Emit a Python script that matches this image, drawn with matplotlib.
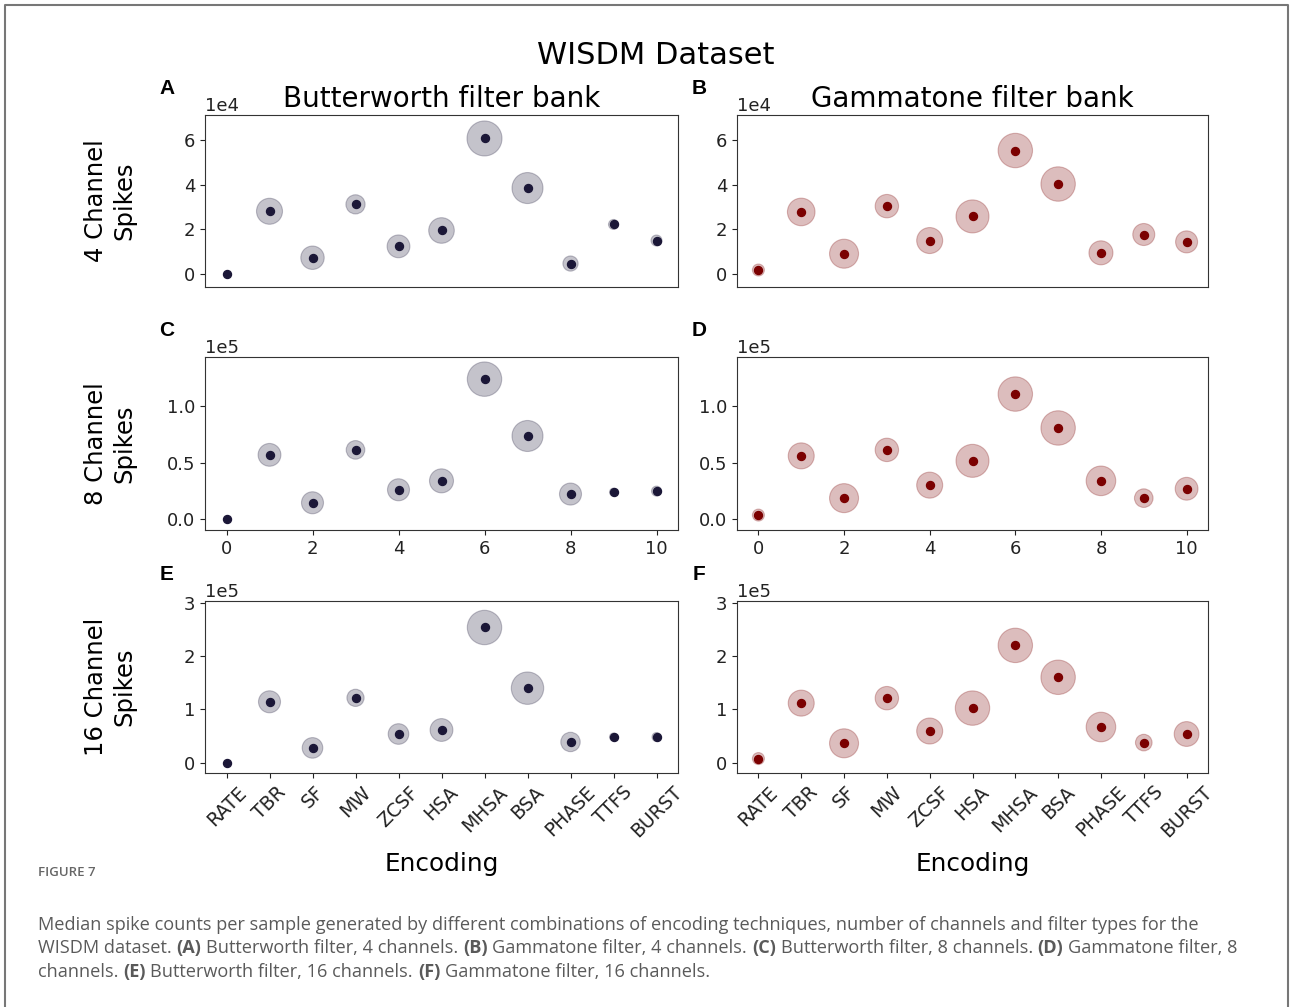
import numpy as np
import matplotlib
matplotlib.use("Agg")
import matplotlib.pyplot as plt
from matplotlib.lines import Line2D

plt.rcParams["font.family"] = "DejaVu Sans"

# DATA
encodings = ["RATE", "TBR", "SF", "MW", "ZCSF", "HSA", "MHSA", "BSA", "PHASE", "TTFS", "BURST"]

# median spike counts per sample
median_A = [0.00e4, 2.81e4, 0.73e4, 3.12e4, 1.24e4, 1.95e4, 6.07e4, 3.85e4, 0.47e4, 2.22e4, 1.50e4]
median_B = [0.18e4, 2.78e4, 0.91e4, 3.04e4, 1.50e4, 2.58e4, 5.53e4, 4.03e4, 0.95e4, 1.77e4, 1.44e4]
median_C = [0.000e5, 0.568e5, 0.144e5, 0.612e5, 0.259e5, 0.338e5, 1.238e5, 0.735e5, 0.221e5, 0.238e5, 0.247e5]
median_D = [0.035e5, 0.559e5, 0.185e5, 0.612e5, 0.300e5, 0.515e5, 1.106e5, 0.806e5, 0.338e5, 0.185e5, 0.268e5]
median_E = [0.000e5, 1.143e5, 0.280e5, 1.217e5, 0.540e5, 0.615e5, 2.534e5, 1.398e5, 0.391e5, 0.484e5, 0.484e5]
median_F = [0.080e5, 1.118e5, 0.366e5, 1.211e5, 0.596e5, 1.025e5, 2.199e5, 1.602e5, 0.671e5, 0.379e5, 0.540e5]

# relative spread (drawn as the halo around each median)
spread_A = [0.0, 13.0, 11.7, 9.6, 11.4, 12.8, 17.5, 15.5, 7.6, 5.0, 5.5]
spread_B = [6.0, 13.8, 14.5, 11.7, 13.0, 16.5, 17.2, 17.2, 12.0, 11.0, 11.0]
spread_C = [0.0, 11.4, 11.0, 9.3, 11.0, 12.0, 17.2, 15.5, 11.0, 4.0, 5.0]
spread_D = [6.0, 13.0, 14.5, 11.7, 13.0, 16.5, 17.2, 17.2, 14.8, 9.3, 11.4]
spread_E = [0.0, 11.0, 10.3, 8.6, 10.3, 11.4, 17.2, 16.2, 9.7, 4.0, 4.5]
spread_F = [6.0, 13.0, 14.5, 11.7, 13.0, 17.2, 17.2, 17.2, 14.8, 8.3, 12.4]

W, H = 1290, 1007
fig = plt.figure(figsize=(W/100, H/100), dpi=100)

def px_axes(l, t, r, b):
    return fig.add_axes([l/W, 1-b/H, (r-l)/W, (b-t)/H])

panels = [
    # label, median, spread, colour, box(px), ylim, yticks
    ("A", median_A, spread_A, "#1b1737", (205, 115, 678, 287), (-0.58e4, 7.12e4), [0, 2e4, 4e4, 6e4]),
    ("B", median_B, spread_B, "#7b0000", (737, 115, 1208, 287), (-0.58e4, 7.12e4), [0, 2e4, 4e4, 6e4]),
    ("C", median_C, spread_C, "#1b1737", (205, 357, 678, 530), (-0.097e5, 1.434e5), [0, 0.5e5, 1e5]),
    ("D", median_D, spread_D, "#7b0000", (737, 357, 1208, 530), (-0.097e5, 1.434e5), [0, 0.5e5, 1e5]),
    ("E", median_E, spread_E, "#1b1737", (205, 601, 678, 773), (-0.19e5, 3.03e5), [0, 1e5, 2e5, 3e5]),
    ("F", median_F, spread_F, "#7b0000", (737, 601, 1208, 773), (-0.19e5, 3.03e5), [0, 1e5, 2e5, 3e5]),
]

x = np.arange(len(encodings))
for i, (lab, med, spr, col, box, ylim, yt) in enumerate(panels):
    ax = px_axes(*box)
    halo = (1.44*np.array(spr))**2
    ax.scatter(x, med, s=halo, color=col, alpha=0.26, edgecolors=col, linewidths=0.8, zorder=2)
    ax.scatter(x, med, s=33, color=col, zorder=3)
    ax.set_xlim(-0.5, 10.5)
    ax.set_ylim(*ylim)
    ax.set_yticks(yt)
    ax.ticklabel_format(axis="y", style="sci", scilimits=(0, 0))
    ax.tick_params(labelsize=13, colors="#222222")
    for s in ax.spines.values():
        s.set_color("#333333")
    ax.yaxis.get_offset_text().set_fontsize(13)
    row = i // 2
    if row == 0:
        ax.set_xticks([])
        ax.set_title(["Butterworth filter bank", "Gammatone filter bank"][i % 2], fontsize=20)
    elif row == 1:
        ax.set_xticks([0, 2, 4, 6, 8, 10])
    else:
        ax.set_xticks(x)
        ax.set_xticklabels(encodings, rotation=45, fontsize=13.5)
        ax.set_xlabel("Encoding", fontsize=17.8, labelpad=8)
    if i % 2 == 0:
        ax.set_ylabel(["4 Channel\nSpikes", "8 Channel\nSpikes", "16 Channel\nSpikes"][row], fontsize=17.5)
        ax.yaxis.set_label_coords(-0.146, 0.5)
    fig.text((box[0]-38)/W, 1-(box[1]-27)/H, lab, fontsize=15, fontweight="bold",
             family="Liberation Sans", ha="center", va="center")

fig.suptitle("WISDM Dataset", fontsize=22, x=656/W, y=1-55/H, va="center")

# journal frame
fig.add_artist(Line2D([4.5/W, 4.5/W, 1288/W, 1288/W], [0, 1-5/H, 1-5/H, 0],
                      transform=fig.transFigure, color="#777777", lw=1.5))

# caption
cap_font = dict(family="Open Sans", color="#5a5a5a")
fig.text(38/W, 1-873/H, "FIGURE 7", fontsize=9.5, color="#666666", family="Open Sans",
         fontweight="semibold", va="center")

caption = [
    [("Median spike counts per sample generated by different combinations of encoding techniques, "
      "number of channels and filter types for the", "normal")],
    [("WISDM dataset.", "normal"), ("(A)", "bold"), ("Butterworth filter, 4 channels.", "normal"),
     ("(B)", "bold"), ("Gammatone filter, 4 channels.", "normal"), ("(C)", "bold"),
     ("Butterworth filter, 8 channels.", "normal"), ("(D)", "bold"), ("Gammatone filter, 8", "normal")],
    [("channels.", "normal"), ("(E)", "bold"), ("Butterworth filter, 16 channels.", "normal"),
     ("(F)", "bold"), ("Gammatone filter, 16 channels.", "normal")],
]
cap_size = 13.1
r = fig.canvas.get_renderer()
t1 = fig.text(0, 0, "x x", fontsize=cap_size, **cap_font)
t2 = fig.text(0, 0, "xx", fontsize=cap_size, **cap_font)
space = t1.get_window_extent(r).width - t2.get_window_extent(r).width
t1.remove(); t2.remove()
for line, ypx in zip(caption, [925, 948, 972]):
    xpx = 38
    for s, w in line:
        t = fig.text(xpx/W, 1-ypx/H, s, fontsize=cap_size, fontweight=w, va="center", ha="left", **cap_font)
        xpx += t.get_window_extent(r).width + space

fig.savefig("out.png", dpi=100)
